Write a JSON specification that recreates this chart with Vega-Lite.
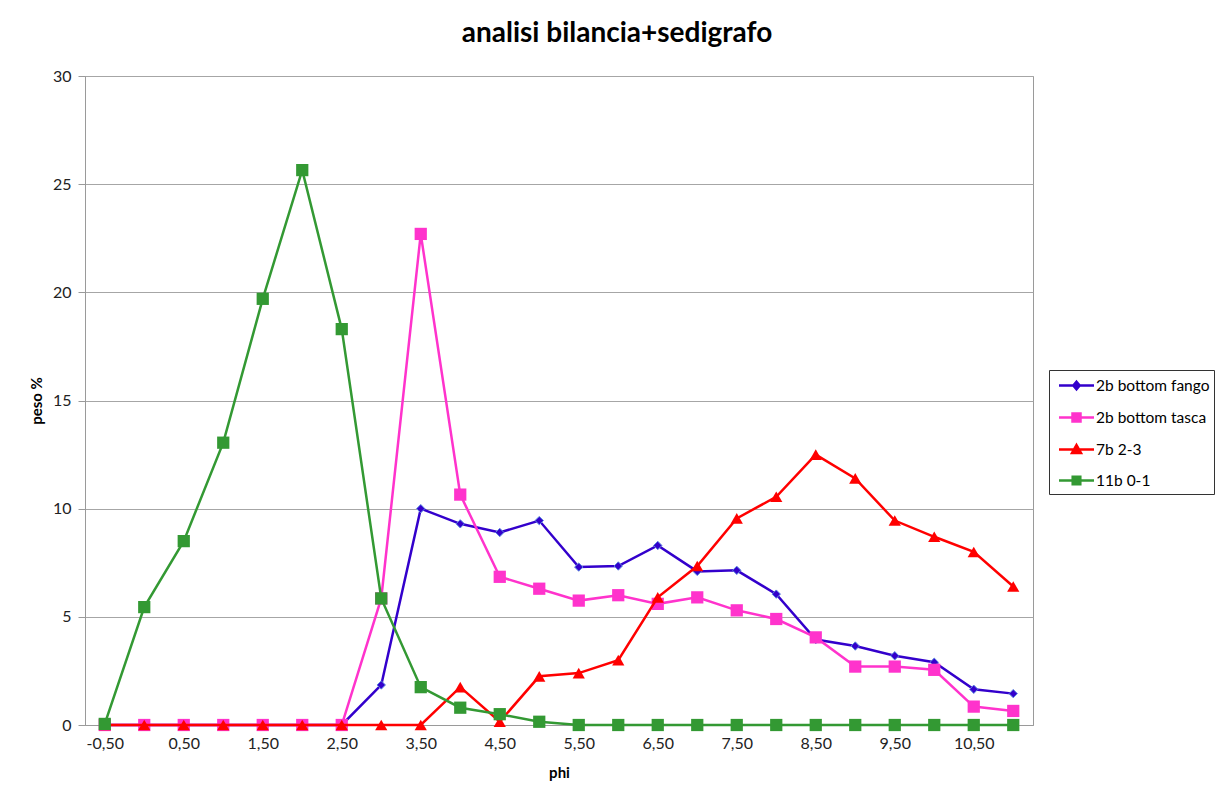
{
  "$schema": "https://vega.github.io/schema/vega-lite/v6.json",
  "width": 948,
  "height": 649,
  "autosize": {"type": "none"},
  "padding": {"left": 85, "top": 76, "right": 190, "bottom": 73},
  "background": "white",
  "config": {
    "font": "Lato",
    "view": {"stroke": "#9a9a9a", "strokeWidth": 1}
  },
  "title": {
    "text": "analisi bilancia+sedigrafo",
    "font": "Lato",
    "fontSize": 28,
    "fontWeight": "bold",
    "color": "#000",
    "anchor": "middle",
    "dx": 58,
    "offset": 20
  },
  "data": {
    "values": [
      {"s": "2b bottom fango", "phi": "-0,50", "v": 0},
      {"s": "2b bottom fango", "phi": "0,00", "v": 0},
      {"s": "2b bottom fango", "phi": "0,50", "v": 0},
      {"s": "2b bottom fango", "phi": "1,00", "v": 0},
      {"s": "2b bottom fango", "phi": "1,50", "v": 0},
      {"s": "2b bottom fango", "phi": "2,00", "v": 0},
      {"s": "2b bottom fango", "phi": "2,50", "v": 0},
      {"s": "2b bottom fango", "phi": "3,00", "v": 1.85},
      {"s": "2b bottom fango", "phi": "3,50", "v": 10.0},
      {"s": "2b bottom fango", "phi": "4,00", "v": 9.3},
      {"s": "2b bottom fango", "phi": "4,50", "v": 8.9},
      {"s": "2b bottom fango", "phi": "5,00", "v": 9.45},
      {"s": "2b bottom fango", "phi": "5,50", "v": 7.3},
      {"s": "2b bottom fango", "phi": "6,00", "v": 7.35},
      {"s": "2b bottom fango", "phi": "6,50", "v": 8.3},
      {"s": "2b bottom fango", "phi": "7,00", "v": 7.1},
      {"s": "2b bottom fango", "phi": "7,50", "v": 7.15},
      {"s": "2b bottom fango", "phi": "8,00", "v": 6.05},
      {"s": "2b bottom fango", "phi": "8,50", "v": 3.95},
      {"s": "2b bottom fango", "phi": "9,00", "v": 3.65},
      {"s": "2b bottom fango", "phi": "9,50", "v": 3.2},
      {"s": "2b bottom fango", "phi": "10,00", "v": 2.9},
      {"s": "2b bottom fango", "phi": "10,50", "v": 1.65},
      {"s": "2b bottom fango", "phi": "11,00", "v": 1.45},
      {"s": "2b bottom tasca", "phi": "-0,50", "v": 0},
      {"s": "2b bottom tasca", "phi": "0,00", "v": 0},
      {"s": "2b bottom tasca", "phi": "0,50", "v": 0},
      {"s": "2b bottom tasca", "phi": "1,00", "v": 0},
      {"s": "2b bottom tasca", "phi": "1,50", "v": 0},
      {"s": "2b bottom tasca", "phi": "2,00", "v": 0},
      {"s": "2b bottom tasca", "phi": "2,50", "v": 0},
      {"s": "2b bottom tasca", "phi": "3,00", "v": 5.85},
      {"s": "2b bottom tasca", "phi": "3,50", "v": 22.7},
      {"s": "2b bottom tasca", "phi": "4,00", "v": 10.65},
      {"s": "2b bottom tasca", "phi": "4,50", "v": 6.85},
      {"s": "2b bottom tasca", "phi": "5,00", "v": 6.3},
      {"s": "2b bottom tasca", "phi": "5,50", "v": 5.75},
      {"s": "2b bottom tasca", "phi": "6,00", "v": 6.0},
      {"s": "2b bottom tasca", "phi": "6,50", "v": 5.6},
      {"s": "2b bottom tasca", "phi": "7,00", "v": 5.9},
      {"s": "2b bottom tasca", "phi": "7,50", "v": 5.3},
      {"s": "2b bottom tasca", "phi": "8,00", "v": 4.9},
      {"s": "2b bottom tasca", "phi": "8,50", "v": 4.05},
      {"s": "2b bottom tasca", "phi": "9,00", "v": 2.7},
      {"s": "2b bottom tasca", "phi": "9,50", "v": 2.7},
      {"s": "2b bottom tasca", "phi": "10,00", "v": 2.55},
      {"s": "2b bottom tasca", "phi": "10,50", "v": 0.85},
      {"s": "2b bottom tasca", "phi": "11,00", "v": 0.65},
      {"s": "7b  2-3", "phi": "-0,50", "v": 0},
      {"s": "7b  2-3", "phi": "0,00", "v": 0},
      {"s": "7b  2-3", "phi": "0,50", "v": 0},
      {"s": "7b  2-3", "phi": "1,00", "v": 0},
      {"s": "7b  2-3", "phi": "1,50", "v": 0},
      {"s": "7b  2-3", "phi": "2,00", "v": 0},
      {"s": "7b  2-3", "phi": "2,50", "v": 0},
      {"s": "7b  2-3", "phi": "3,00", "v": 0},
      {"s": "7b  2-3", "phi": "3,50", "v": 0},
      {"s": "7b  2-3", "phi": "4,00", "v": 1.75},
      {"s": "7b  2-3", "phi": "4,50", "v": 0.15},
      {"s": "7b  2-3", "phi": "5,00", "v": 2.25},
      {"s": "7b  2-3", "phi": "5,50", "v": 2.4},
      {"s": "7b  2-3", "phi": "6,00", "v": 3.0},
      {"s": "7b  2-3", "phi": "6,50", "v": 5.9},
      {"s": "7b  2-3", "phi": "7,00", "v": 7.35},
      {"s": "7b  2-3", "phi": "7,50", "v": 9.55},
      {"s": "7b  2-3", "phi": "8,00", "v": 10.55},
      {"s": "7b  2-3", "phi": "8,50", "v": 12.5},
      {"s": "7b  2-3", "phi": "9,00", "v": 11.4},
      {"s": "7b  2-3", "phi": "9,50", "v": 9.45},
      {"s": "7b  2-3", "phi": "10,00", "v": 8.7},
      {"s": "7b  2-3", "phi": "10,50", "v": 8.0},
      {"s": "7b  2-3", "phi": "11,00", "v": 6.4},
      {"s": "11b  0-1", "phi": "-0,50", "v": 0.05},
      {"s": "11b  0-1", "phi": "0,00", "v": 5.45},
      {"s": "11b  0-1", "phi": "0,50", "v": 8.5},
      {"s": "11b  0-1", "phi": "1,00", "v": 13.05},
      {"s": "11b  0-1", "phi": "1,50", "v": 19.7},
      {"s": "11b  0-1", "phi": "2,00", "v": 25.65},
      {"s": "11b  0-1", "phi": "2,50", "v": 18.3},
      {"s": "11b  0-1", "phi": "3,00", "v": 5.85},
      {"s": "11b  0-1", "phi": "3,50", "v": 1.75},
      {"s": "11b  0-1", "phi": "4,00", "v": 0.8},
      {"s": "11b  0-1", "phi": "4,50", "v": 0.5},
      {"s": "11b  0-1", "phi": "5,00", "v": 0.15},
      {"s": "11b  0-1", "phi": "5,50", "v": 0},
      {"s": "11b  0-1", "phi": "6,00", "v": 0},
      {"s": "11b  0-1", "phi": "6,50", "v": 0},
      {"s": "11b  0-1", "phi": "7,00", "v": 0},
      {"s": "11b  0-1", "phi": "7,50", "v": 0},
      {"s": "11b  0-1", "phi": "8,00", "v": 0},
      {"s": "11b  0-1", "phi": "8,50", "v": 0},
      {"s": "11b  0-1", "phi": "9,00", "v": 0},
      {"s": "11b  0-1", "phi": "9,50", "v": 0},
      {"s": "11b  0-1", "phi": "10,00", "v": 0},
      {"s": "11b  0-1", "phi": "10,50", "v": 0},
      {"s": "11b  0-1", "phi": "11,00", "v": 0}
    ]
  },
  "encoding": {
    "x": {
      "field": "phi",
      "type": "ordinal",
      "scale": {
        "type": "point",
        "padding": 0.5,
        "domain": ["-0,50","0,00","0,50","1,00","1,50","2,00","2,50","3,00","3,50","4,00","4,50","5,00","5,50","6,00","6,50","7,00","7,50","8,00","8,50","9,00","9,50","10,00","10,50","11,00"]
      },
      "axis": {
        "title": "phi",
        "titleFont": "Lato",
        "titleFontSize": 15,
        "titleFontWeight": "bold",
        "titleColor": "#000",
        "titlePadding": 14,
        "labelAngle": 0,
        "labelFont": "Lato",
        "labelFontSize": 16,
        "labelColor": "#222",
        "labelPadding": 10,
        "ticks": false,
        "domainColor": "#9a9a9a",
        "grid": false,
        "values": ["-0,50","0,50","1,50","2,50","3,50","4,50","5,50","6,50","7,50","8,50","9,50","10,50"]
      }
    },
    "y": {
      "field": "v",
      "type": "quantitative",
      "scale": {"domain": [0, 30], "nice": false},
      "axis": {
        "title": "peso %",
        "titleFont": "Lato",
        "titleFontSize": 15,
        "titleFontWeight": "bold",
        "titleColor": "#000",
        "titlePadding": 8,
        "values": [0, 5, 10, 15, 20, 25, 30],
        "labelFont": "Lato",
        "labelFontSize": 16,
        "labelColor": "#222",
        "labelPadding": 7,
        "tickColor": "#9a9a9a",
        "tickSize": 7,
        "domainColor": "#9a9a9a",
        "gridColor": "#a6a6a6",
        "gridWidth": 1
      }
    },
    "color": {
      "field": "s",
      "type": "nominal",
      "scale": {
        "domain": ["2b bottom fango", "2b bottom tasca", "7b  2-3", "11b  0-1"],
        "range": ["#3300cc", "#ff33cc", "#ff0000", "#339933"]
      },
      "legend": {
        "title": null,
        "orient": "none",
        "legendX": 964,
        "legendY": 294,
        "strokeColor": "#333",
        "fillColor": "white",
        "padding": 4,
        "rowPadding": 11,
        "symbolSize": 400,
        "symbolOffset": 12,
        "symbolStrokeWidth": 2.5,
        "labelFont": "Lato",
        "labelFontSize": 15.5,
        "labelColor": "#000",
        "labelOffset": 8,
        "encode": {
          "symbols": {
            "update": {
              "shape": {"signal": "datum.value === '2b bottom fango' ? 'M-1.75,0H1.75M0,-0.38L0.32,0L0,0.38L-0.32,0Z' : datum.value === '2b bottom tasca' ? 'M-1.75,0H1.75M-0.4,-0.4H0.4V0.4H-0.4Z' : datum.value === '7b  2-3' ? 'M-1.75,0H1.75M0,-0.45L0.45,0.35H-0.45Z' : 'M-1.75,0H1.75M-0.38,-0.38H0.38V0.38H-0.38Z'"},
              "fill": {"signal": "scale('color', datum.value)"},
              "stroke": {"signal": "scale('color', datum.value)"},
              "strokeWidth": {"value": 2.5},
              "opacity": {"value": 1}
            }
          }
        }
      }
    }
  },
  "layer": [
    {
      "transform": [{"filter": "datum.s === '2b bottom fango'"}],
      "mark": {"type": "line", "strokeWidth": 2.5, "point": {"shape": "diamond", "filled": true, "size": 70, "stroke": "#5b86e0", "strokeWidth": 1, "opacity": 1}}
    },
    {
      "transform": [{"filter": "datum.s === '2b bottom tasca'"}],
      "mark": {"type": "line", "strokeWidth": 2.5, "point": {"shape": "square", "filled": true, "size": 150, "opacity": 1}}
    },
    {
      "transform": [{"filter": "datum.s === '7b  2-3'"}],
      "mark": {"type": "line", "strokeWidth": 2.5, "point": {"shape": "triangle-up", "filled": true, "size": 150, "opacity": 1}}
    },
    {
      "transform": [{"filter": "datum.s === '11b  0-1'"}],
      "mark": {"type": "line", "strokeWidth": 2.5, "point": {"shape": "square", "filled": true, "size": 150, "opacity": 1}}
    }
  ]
}
